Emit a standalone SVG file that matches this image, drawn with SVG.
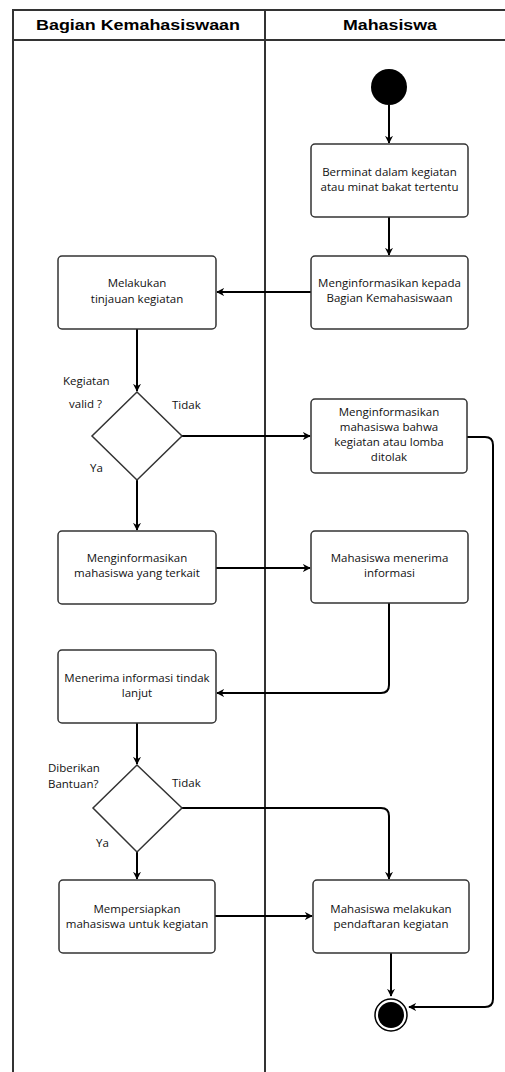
<svg xmlns="http://www.w3.org/2000/svg" width="505" height="1072" viewBox="0 0 505 1072">
<style>
.lane{fill:none;stroke:#333;stroke-width:2}
.hd{font-family:"Liberation Sans",Arial,sans-serif;font-weight:bold;font-size:15px;fill:#000;text-anchor:middle}
.box{fill:#fff;stroke:#333;stroke-width:1.5}
.t{font-family:"Open Sans","Noto Sans",sans-serif;font-size:11.5px;fill:#111;text-anchor:middle}
.lb{font-family:"Open Sans","Noto Sans",sans-serif;font-size:11.5px;fill:#111}
.c{fill:none;stroke:#000;stroke-width:2;marker-end:url(#ah)}
</style>
<defs>
<marker id="ah" viewBox="0 0 10 10" refX="9" refY="5" markerWidth="8" markerHeight="8" markerUnits="userSpaceOnUse" orient="auto">
<path d="M0,0 L10,5 L0,10 L3,5 z" fill="#000"/>
</marker>
</defs>
<rect width="505" height="1072" fill="#fff"/>
<g id="swimlane">
<path class="lane" d="M520,10 H13 V1080 M13,40 H520 M265,10 V1080"/>
<text class="hd" x="138" y="30" textLength="204" lengthAdjust="spacingAndGlyphs">Bagian Kemahasiswaan</text>
<text class="hd" x="390" y="30" textLength="94" lengthAdjust="spacingAndGlyphs">Mahasiswa</text>
</g>
<g id="connectors">
<path class="c" d="M389,105 V143"/>
<path class="c" d="M389,217 V255"/>
<path class="c" d="M311,292 H217"/>
<path class="c" d="M137,329 V391"/>
<path class="c" d="M182,436 H310"/>
<path class="c" d="M137,480 V530"/>
<path class="c" d="M467,437 H485 Q493,437 493,445 V999 Q493,1007 485,1007 H409"/>
<path class="c" d="M216,568 H310"/>
<path class="c" d="M389,603 V685 Q389,693 381,693 H217"/>
<path class="c" d="M137,723 V764"/>
<path class="c" d="M182,808 H381 Q389,808 389,816 V879"/>
<path class="c" d="M137,852 V879"/>
<path class="c" d="M215,916 H312"/>
<path class="c" d="M391,953 V996"/>
</g>
<g id="start"><circle cx="389" cy="87" r="18" fill="#000"/></g>
<g id="n1"><rect class="box" x="311" y="144" width="157" height="73" rx="4"/>
<text class="t" x="389.5" y="176">Berminat dalam kegiatan</text><text class="t" x="389.5" y="191">atau minat bakat tertentu</text></g>
<g id="n2"><rect class="box" x="311" y="256" width="157" height="73" rx="4"/>
<text class="t" x="389.5" y="287">Menginformasikan kepada</text><text class="t" x="389.5" y="302">Bagian Kemahasiswaan</text></g>
<g id="n3"><rect class="box" x="58" y="256" width="158" height="73" rx="4"/>
<text class="t" x="137" y="287">Melakukan</text><text class="t" x="137" y="303">tinjauan kegiatan</text></g>
<g id="d1"><path class="box" d="M137,392 L182,436 L137,480 L92,436 Z"/>
<text class="lb" x="63" y="385">Kegiatan</text><text class="lb" x="69" y="408">valid ?</text>
<text class="lb" x="172" y="409">Tidak</text><text class="lb" x="90" y="472">Ya</text></g>
<g id="n4"><rect class="box" x="311" y="399" width="156" height="74" rx="4"/>
<text class="t" x="389" y="416">Menginformasikan</text><text class="t" x="389" y="431">mahasiswa bahwa</text>
<text class="t" x="389" y="446">kegiatan atau lomba</text><text class="t" x="389" y="461">ditolak</text></g>
<g id="n5"><rect class="box" x="58" y="531" width="158" height="73" rx="4"/>
<text class="t" x="137" y="562">Menginformasikan</text><text class="t" x="137" y="577">mahasiswa yang terkait</text></g>
<g id="n6"><rect class="box" x="311" y="531" width="157" height="72" rx="4"/>
<text class="t" x="389.5" y="562">Mahasiswa menerima</text><text class="t" x="389.5" y="577">informasi</text></g>
<g id="n7"><rect class="box" x="58" y="650" width="158" height="73" rx="4"/>
<text class="t" x="137" y="682">Menerima informasi tindak</text><text class="t" x="137" y="697">lanjut</text></g>
<g id="d2"><path class="box" d="M137,765 L182,808 L137,852 L93,808 Z"/>
<text class="lb" x="48" y="772">Diberikan</text><text class="lb" x="48" y="788">Bantuan?</text>
<text class="lb" x="172" y="787">Tidak</text><text class="lb" x="96" y="847">Ya</text></g>
<g id="n8"><rect class="box" x="59" y="880" width="156" height="73" rx="4"/>
<text class="t" x="137" y="913">Mempersiapkan</text><text class="t" x="137" y="928">mahasiswa untuk kegiatan</text></g>
<g id="n9"><rect class="box" x="313" y="880" width="156" height="73" rx="4"/>
<text class="t" x="391" y="913">Mahasiswa melakukan</text><text class="t" x="391" y="928">pendaftaran kegiatan</text></g>
<g id="end"><circle cx="391" cy="1015" r="16" fill="#fff" stroke="#000" stroke-width="1.5"/><circle cx="391" cy="1015" r="13" fill="#000"/></g>
</svg>
